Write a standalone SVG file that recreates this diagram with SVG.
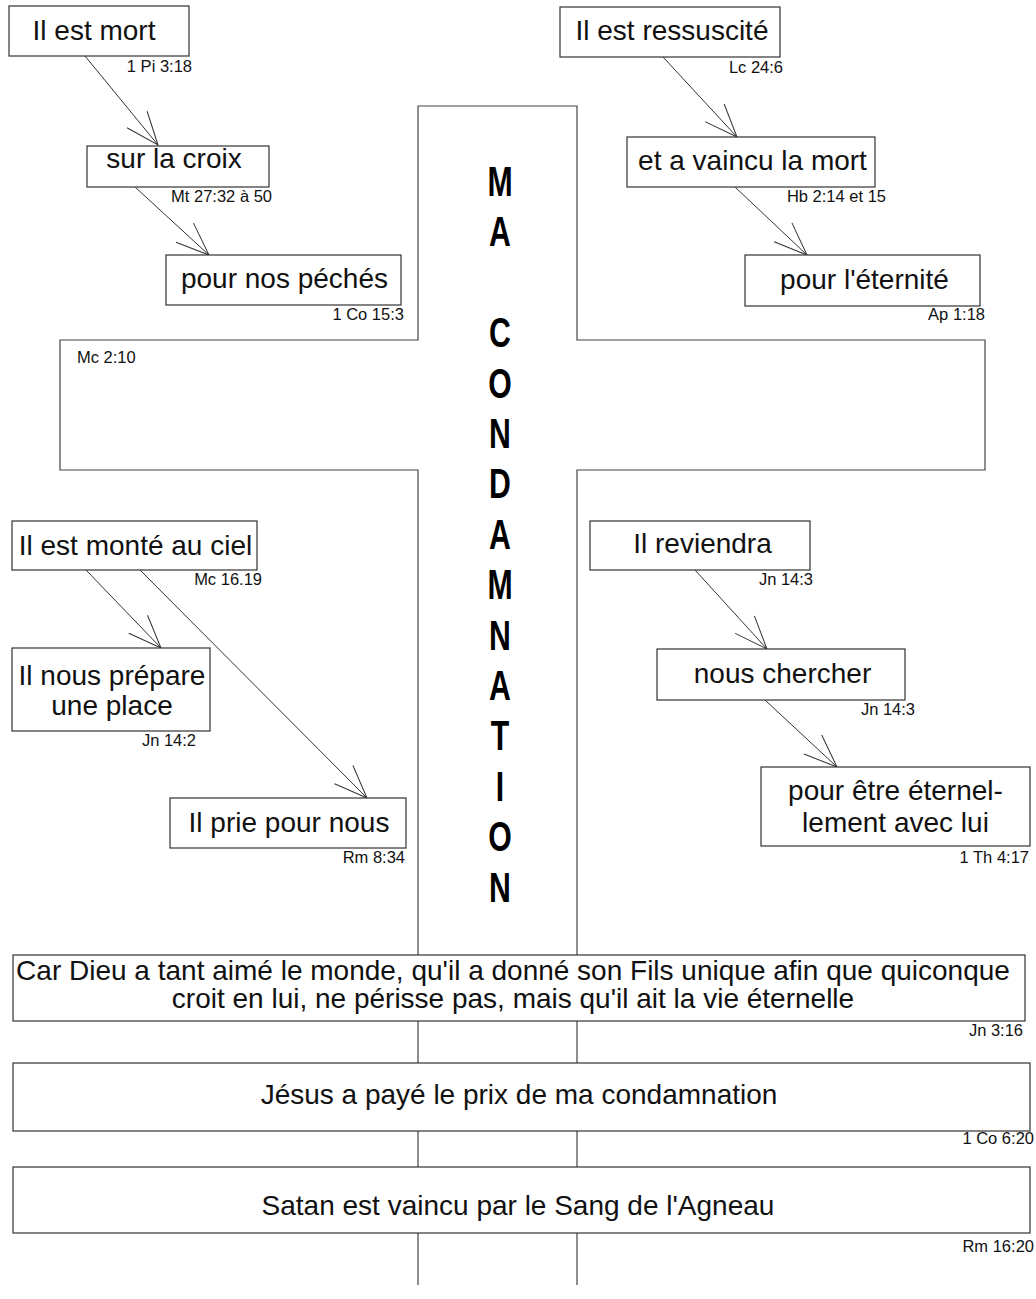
<svg xmlns="http://www.w3.org/2000/svg" width="1036" height="1299" viewBox="0 0 1036 1299">
<style>
  .box { fill: #fff; stroke: #333; stroke-width: 1.2; }
  .cross { fill: none; stroke: #444; stroke-width: 1.2; }
  .t { font-family: "Liberation Sans", Arial, sans-serif; font-size: 28px; fill: #111; text-anchor: middle; }
  .ref { font-family: "Liberation Sans", Arial, sans-serif; font-size: 16.5px; fill: #111; text-anchor: end; }
  .big { font-family: "Liberation Sans", Arial, sans-serif; font-size: 42px; font-weight: bold; fill: #000; text-anchor: middle; }
  .conn { fill: none; stroke: #333; stroke-width: 1; }
</style>
<defs>
  <marker id="ah" markerUnits="userSpaceOnUse" viewBox="-36 -16 40 32" markerWidth="40" markerHeight="32" refX="0" refY="0" orient="auto">
    <path d="M-33,-13 L0,0 L-33,13" fill="none" stroke="#333" stroke-width="1"/>
  </marker>
</defs>
<rect width="1036" height="1299" fill="#fff"/>

<g id="cross">
  <polyline class="cross" points="418,1285 418,470 60,470 60,340 418,340 418,106 577,106 577,340 985,340 985,470 577,470 577,1285"/>
  <text class="ref" x="77" y="363" style="text-anchor:start">Mc 2:10</text>
  <g transform="translate(500,0) scale(0.72,1)">
    <text class="big" x="0" y="196">M</text>
    <text class="big" x="0" y="246.4">A</text>
    <text class="big" x="0" y="347.2">C</text>
    <text class="big" x="0" y="397.6">O</text>
    <text class="big" x="0" y="448">N</text>
    <text class="big" x="0" y="498.4">D</text>
    <text class="big" x="0" y="548.8">A</text>
    <text class="big" x="0" y="599.2">M</text>
    <text class="big" x="0" y="649.6">N</text>
    <text class="big" x="0" y="700">A</text>
    <text class="big" x="0" y="750.4">T</text>
    <text class="big" x="0" y="800.8">I</text>
    <text class="big" x="0" y="851.2">O</text>
    <text class="big" x="0" y="901.6">N</text>
  </g>
</g>

<g id="connectors">
  <line class="conn" x1="85" y1="56" x2="158" y2="145" marker-end="url(#ah)"/>
  <line class="conn" x1="135" y1="187" x2="209" y2="255" marker-end="url(#ah)"/>
  <line class="conn" x1="663" y1="57" x2="737" y2="137" marker-end="url(#ah)"/>
  <line class="conn" x1="735" y1="187" x2="807" y2="255" marker-end="url(#ah)"/>
  <line class="conn" x1="86" y1="570" x2="161" y2="648" marker-end="url(#ah)"/>
  <line class="conn" x1="140" y1="570" x2="367" y2="798" marker-end="url(#ah)"/>
  <line class="conn" x1="695" y1="570" x2="767" y2="649" marker-end="url(#ah)"/>
  <line class="conn" x1="765" y1="700" x2="837" y2="767" marker-end="url(#ah)"/>
</g>

<g id="n-mort">
  <rect class="box" x="9" y="6" width="180" height="50"/>
  <text class="t" x="94" y="40">Il est mort</text>
  <text class="ref" x="192" y="72">1 Pi 3:18</text>
</g>
<g id="n-croix">
  <rect class="box" x="87" y="146" width="182" height="41"/>
  <text class="t" x="174" y="168">sur la croix</text>
  <text class="ref" x="272" y="202">Mt 27:32 à 50</text>
</g>
<g id="n-peches">
  <rect class="box" x="166" y="255" width="235" height="50"/>
  <text class="t" x="284.5" y="288">pour nos péchés</text>
  <text class="ref" x="404" y="320">1 Co 15:3</text>
</g>
<g id="n-ressuscite">
  <rect class="box" x="560" y="7" width="220" height="50"/>
  <text class="t" x="672" y="40">Il est ressuscité</text>
  <text class="ref" x="783" y="73">Lc 24:6</text>
</g>
<g id="n-vaincu">
  <rect class="box" x="627" y="137" width="248" height="50"/>
  <text class="t" x="752.5" y="170">et a vaincu la mort</text>
  <text class="ref" x="886" y="202">Hb 2:14 et 15</text>
</g>
<g id="n-eternite">
  <rect class="box" x="745" y="255" width="235" height="51"/>
  <text class="t" x="864.5" y="289">pour l'éternité</text>
  <text class="ref" x="985" y="320">Ap 1:18</text>
</g>
<g id="n-monte">
  <rect class="box" x="12" y="521" width="245" height="49"/>
  <text class="t" x="135.5" y="555">Il est monté au ciel</text>
  <text class="ref" x="262" y="585">Mc 16.19</text>
</g>
<g id="n-place">
  <rect class="box" x="12" y="648" width="198" height="83"/>
  <text class="t" x="112" y="685">Il nous prépare</text>
  <text class="t" x="112" y="715">une place</text>
  <text class="ref" x="196" y="746">Jn 14:2</text>
</g>
<g id="n-prie">
  <rect class="box" x="170" y="798" width="236" height="50"/>
  <text class="t" x="289" y="832">Il prie pour nous</text>
  <text class="ref" x="405" y="863">Rm 8:34</text>
</g>
<g id="n-reviendra">
  <rect class="box" x="590" y="521" width="220" height="49"/>
  <text class="t" x="702.5" y="553">Il reviendra</text>
  <text class="ref" x="813" y="585">Jn 14:3</text>
</g>
<g id="n-chercher">
  <rect class="box" x="657" y="649" width="248" height="51"/>
  <text class="t" x="782.5" y="683">nous chercher</text>
  <text class="ref" x="915" y="715">Jn 14:3</text>
</g>
<g id="n-eternellement">
  <rect class="box" x="761" y="767" width="269" height="79"/>
  <text class="t" x="895.5" y="800">pour être éternel-</text>
  <text class="t" x="895.5" y="832">lement avec lui</text>
  <text class="ref" x="1029" y="863">1 Th 4:17</text>
</g>
<g id="n-jean316">
  <rect class="box" x="13" y="955" width="1012" height="66"/>
  <text class="t" x="513" y="980">Car Dieu a tant aimé le monde, qu'il a donné son Fils unique afin que quiconque</text>
  <text class="t" x="513" y="1008">croit en lui, ne périsse pas, mais qu'il ait la vie éternelle</text>
  <text class="ref" x="1023" y="1036">Jn 3:16</text>
</g>
<g id="n-jesus">
  <rect class="box" x="13" y="1063" width="1017" height="68"/>
  <text class="t" x="519" y="1104">Jésus a payé le prix de ma condamnation</text>
  <text class="ref" x="1034" y="1144">1 Co 6:20</text>
</g>
<g id="n-satan">
  <rect class="box" x="13" y="1167" width="1017" height="66"/>
  <text class="t" x="518" y="1215">Satan est vaincu par le Sang de l'Agneau</text>
  <text class="ref" x="1034" y="1252">Rm 16:20</text>
</g>
</svg>
